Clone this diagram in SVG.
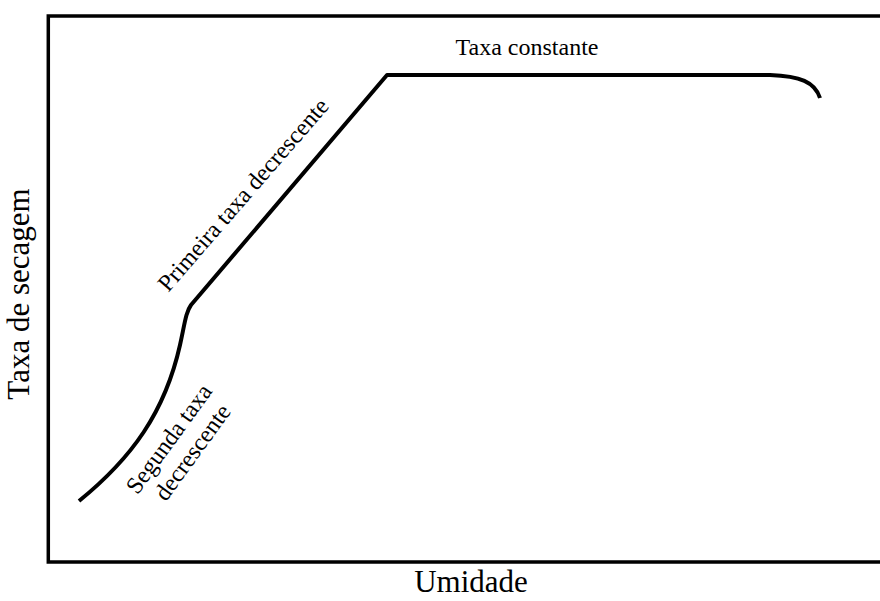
<svg xmlns="http://www.w3.org/2000/svg" width="880" height="601" viewBox="0 0 880 601">
  <style>
    .frame { fill: none; stroke: #000; stroke-width: 3.5; }
    .curve { fill: none; stroke: #000; stroke-width: 4; stroke-linejoin: round; }
    .lbl { font-family: "Liberation Serif", "Times New Roman", serif; fill: #000; }
    .axis { font-size: 31px; }
    .phase { font-size: 24px; }
  </style>
  <rect width="880" height="601" fill="#fff"/>

  <!-- plot frame (open on the right) -->
  <g id="frame">
    <path class="frame" d="M884,16 H48.3 V562 H884"/>
  </g>

  <!-- axis titles -->
  <g id="axis-x">
    <text class="lbl axis" x="471" y="592" text-anchor="middle">Umidade</text>
  </g>
  <g id="axis-y">
    <text class="lbl axis" transform="translate(29,294) rotate(-90)" text-anchor="middle">Taxa de secagem</text>
  </g>

  <!-- drying-rate curve -->
  <g id="connectors">
    <path class="curve" d="M79,501 C132,458 165,412 180,345 C185,322 186,312 191,305 L387,75 L770,75 C800,76 815,82 820,98"/>
  </g>

  <!-- phase labels -->
  <g id="phase-constant">
    <text class="lbl phase" x="527" y="55" text-anchor="middle" font-size="25">Taxa constante</text>
  </g>
  <g id="phase-first">
    <text class="lbl phase" transform="translate(249,200) rotate(-49)" text-anchor="middle">Primeira taxa decrescente</text>
  </g>
  <g id="phase-second">
    <text class="lbl phase" transform="translate(177,441) rotate(-54)" text-anchor="middle">
      <tspan x="0" dy="0">Segunda taxa</tspan>
      <tspan x="0" dy="27">decrescente</tspan>
    </text>
  </g>
</svg>
